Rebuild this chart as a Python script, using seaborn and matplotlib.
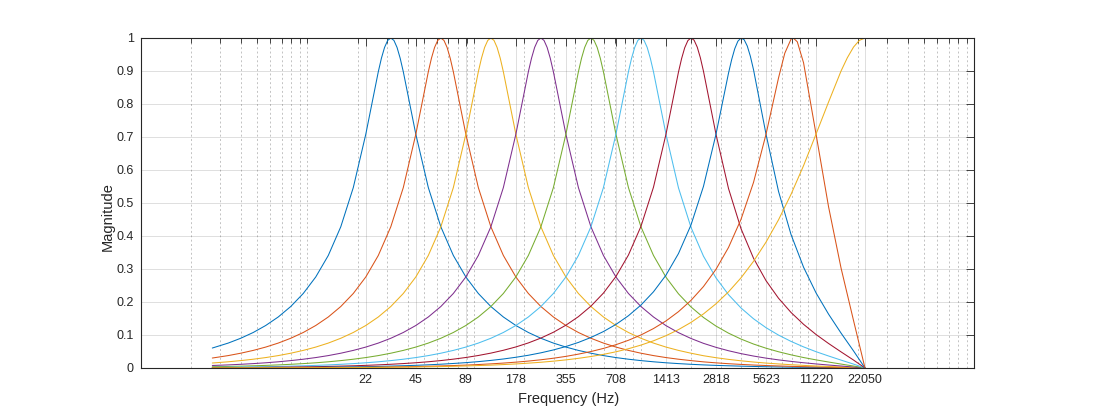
import matplotlib
matplotlib.use("Agg")
import matplotlib.pyplot as plt
import numpy as np
import pandas as pd
import seaborn as sns
from matplotlib.ticker import FixedLocator, FixedFormatter, NullFormatter

# Octave filter bank magnitude responses (fs = 44.1 kHz)

# Shared frequency grid (Hz)
freq_hz = [2.69, 3.350, 3.981, 4.732, 5.623, 6.683, 7.943, 9.441, 11.22, 13.34,
           15.85, 18.84, 22.39, 26.61, 31.62, 37.58, 44.67, 53.09, 63.10, 74.99,
           89.13, 105.9, 125.9, 149.6, 177.8, 211.3, 251.2, 298.5, 354.8, 421.7,
           501.2, 595.7, 707.9, 841.4, 1000, 1189, 1413, 1679, 1995, 2371,
           2818, 3350, 3981, 4732, 5623, 6683, 7943, 9441, 11220, 13335,
           15849, 18836, 22050]

band_names = ["31.5 Hz", "63 Hz", "125 Hz", "250 Hz", "500 Hz",
              "1 kHz", "2 kHz", "4 kHz", "8 kHz", "16 kHz"]

mag_31hz = [0.0605, 0.0755, 0.0901, 0.1076, 0.1288, 0.1546, 0.1863, 0.2258, 0.2759, 0.3410,
            0.4279, 0.5467, 0.7084, 0.8977, 1.0, 0.8977, 0.7084, 0.5467, 0.4279, 0.3410,
            0.2759, 0.2258, 0.1863, 0.1546, 0.1288, 0.1076, 0.0901, 0.0755, 0.0634, 0.0533,
            0.0448, 0.0376, 0.0316, 0.0266, 0.0224, 0.0188, 0.0158, 0.0133, 0.0112, 0.0094,
            0.0079, 0.0067, 0.0056, 0.0047, 0.0038, 0.0031, 0.0025, 0.0020, 0.0016, 0.0012,
            0.0007, 0.0004, 0.0]
mag_63hz = [0.0302, 0.0376, 0.0448, 0.0533, 0.0634, 0.0755, 0.0901, 0.1076, 0.1288, 0.1546,
            0.1863, 0.2258, 0.2759, 0.3410, 0.4279, 0.5467, 0.7084, 0.8977, 1.0, 0.8977,
            0.7084, 0.5467, 0.4279, 0.3410, 0.2759, 0.2258, 0.1863, 0.1546, 0.1288, 0.1076,
            0.0901, 0.0755, 0.0634, 0.0533, 0.0448, 0.0376, 0.0316, 0.0266, 0.0224, 0.0186,
            0.0156, 0.0130, 0.0109, 0.0090, 0.0075, 0.0062, 0.0050, 0.0040, 0.0031, 0.0023,
            0.0015, 0.0008, 0.0]
mag_125hz = [0.0151, 0.0188, 0.0224, 0.0266, 0.0316, 0.0376, 0.0448, 0.0533, 0.0634, 0.0755,
             0.0901, 0.1076, 0.1288, 0.1546, 0.1863, 0.2258, 0.2759, 0.3410, 0.4279, 0.5467,
             0.7084, 0.8977, 1.0, 0.8977, 0.7084, 0.5467, 0.4279, 0.3410, 0.2759, 0.2258,
             0.1863, 0.1546, 0.1288, 0.1076, 0.0901, 0.0755, 0.0634, 0.0533, 0.0448, 0.0372,
             0.0312, 0.0261, 0.0218, 0.0181, 0.0149, 0.0123, 0.0100, 0.0079, 0.0061, 0.0046,
             0.0030, 0.0015, 0.0]
mag_250hz = [0.0076, 0.0094, 0.0112, 0.0133, 0.0158, 0.0188, 0.0224, 0.0266, 0.0316, 0.0376,
             0.0448, 0.0533, 0.0634, 0.0755, 0.0901, 0.1076, 0.1288, 0.1546, 0.1863, 0.2258,
             0.2759, 0.3410, 0.4279, 0.5467, 0.7084, 0.8977, 1.0, 0.8977, 0.7084, 0.5467,
             0.4279, 0.3410, 0.2759, 0.2258, 0.1863, 0.1546, 0.1284, 0.1071, 0.0895, 0.0747,
             0.0626, 0.0523, 0.0436, 0.0362, 0.0299, 0.0246, 0.0200, 0.0159, 0.0123, 0.0090,
             0.0060, 0.0029, 0.0]
mag_500hz = [0.0038, 0.0047, 0.0056, 0.0067, 0.0079, 0.0094, 0.0112, 0.0133, 0.0158, 0.0188,
             0.0224, 0.0266, 0.0316, 0.0376, 0.0448, 0.0533, 0.0634, 0.0755, 0.0901, 0.1076,
             0.1288, 0.1546, 0.1863, 0.2258, 0.2759, 0.3410, 0.4279, 0.5467, 0.7084, 0.8977,
             1.0, 0.8977, 0.7084, 0.5467, 0.4279, 0.3410, 0.2751, 0.2248, 0.1851, 0.1531,
             0.1271, 0.1056, 0.0877, 0.0726, 0.0600, 0.0492, 0.0399, 0.0317, 0.0246, 0.0181,
             0.0119, 0.0059, 0.0]
mag_1khz = [0.0019, 0.0024, 0.0028, 0.0034, 0.0040, 0.0047, 0.0056, 0.0067, 0.0079, 0.0094,
            0.0112, 0.0133, 0.0158, 0.0188, 0.0224, 0.0266, 0.0316, 0.0376, 0.0448, 0.0533,
            0.0634, 0.0755, 0.0901, 0.1076, 0.1288, 0.1546, 0.1863, 0.2258, 0.2759, 0.3410,
            0.4279, 0.5467, 0.7084, 0.8977, 1.0, 0.8977, 0.7084, 0.5459, 0.4264, 0.3389,
            0.2732, 0.2222, 0.1819, 0.1492, 0.1222, 0.0997, 0.0806, 0.0640, 0.0494, 0.0364,
            0.0239, 0.0118, 0.0]
mag_2khz = [0.0009, 0.0012, 0.0014, 0.0017, 0.0020, 0.0024, 0.0028, 0.0034, 0.0040, 0.0048,
            0.0057, 0.0067, 0.0080, 0.0095, 0.0113, 0.0134, 0.0159, 0.0189, 0.0225, 0.0268,
            0.0318, 0.0379, 0.0451, 0.0537, 0.0638, 0.0760, 0.0907, 0.1083, 0.1297, 0.1556,
            0.1874, 0.2270, 0.2772, 0.3424, 0.4291, 0.5479, 0.7084, 0.8967, 1.0, 0.8993,
            0.7085, 0.5439, 0.4222, 0.3326, 0.2647, 0.2114, 0.1683, 0.1324, 0.1015, 0.0743,
            0.0488, 0.0240, 0.0]
mag_4khz = [0.0005, 0.0006, 0.0007, 0.0008, 0.0010, 0.0012, 0.0014, 0.0017, 0.0021, 0.0025,
            0.0029, 0.0035, 0.0041, 0.0048, 0.0058, 0.0069, 0.0081, 0.0097, 0.0115, 0.0137,
            0.0162, 0.0193, 0.0230, 0.0273, 0.0325, 0.0386, 0.0460, 0.0547, 0.0651, 0.0775,
            0.0925, 0.1104, 0.1320, 0.1584, 0.1907, 0.2309, 0.2814, 0.3468, 0.4332, 0.5504,
            0.7082, 0.8934, 0.9998, 0.9039, 0.7086, 0.5352, 0.4044, 0.3055, 0.2275, 0.1632,
            0.1057, 0.0516, 0.0]
mag_8khz = [0.0003, 0.0003, 0.0004, 0.0005, 0.0006, 0.0007, 0.0008, 0.0009, 0.0011, 0.0013,
            0.0016, 0.0019, 0.0022, 0.0026, 0.0031, 0.0037, 0.0044, 0.0053, 0.0063, 0.0074,
            0.0088, 0.0105, 0.0125, 0.0149, 0.0177, 0.0210, 0.0249, 0.0296, 0.0352, 0.0420,
            0.0499, 0.0593, 0.0706, 0.0840, 0.1001, 0.1195, 0.1426, 0.1707, 0.2048, 0.2468,
            0.2991, 0.3652, 0.4505, 0.5624, 0.7082, 0.8790, 0.9965, 0.9250, 0.7085, 0.4886,
            0.3026, 0.1434, 0.0]
mag_16khz = [0.0002, 0.0002, 0.0003, 0.0003, 0.0004, 0.0005, 0.0006, 0.0007, 0.0008, 0.0009,
             0.0011, 0.0013, 0.0016, 0.0018, 0.0022, 0.0026, 0.0031, 0.0037, 0.0044, 0.0052,
             0.0062, 0.0074, 0.0087, 0.0104, 0.0123, 0.0147, 0.0174, 0.0207, 0.0246, 0.0293,
             0.0348, 0.0413, 0.0491, 0.0584, 0.0694, 0.0824, 0.0979, 0.1163, 0.1381, 0.1639,
             0.1945, 0.2307, 0.2732, 0.3232, 0.3814, 0.4490, 0.5262, 0.6131, 0.7089, 0.8059,
             0.9000, 0.9726, 1.0]

# Extra points around each peak (Hz, magnitude)
peak_hz = [[27.78, 29.01, 30.29, 33.02, 34.47, 35.99],
           [55.43, 57.88, 60.43, 65.88, 68.79, 71.82],
           [110.6, 115.5, 120.6, 131.5, 137.2, 143.3],
           [220.7, 230.4, 240.6, 262.3, 273.8, 285.9],
           [440.3, 459.8, 480.0, 523.3, 546.4, 570.5],
           [878.6, 917.4, 957.7, 1044, 1090, 1138],
           [1753, 1830, 1912, 2083, 2176, 2271],
           [3499, 3652, 3813, 4157, 4340, 4530],
           [7286, 8188, 8660],
           [17278, 20400]]
peak_mag = [[0.9387, 0.9714, 0.9926, 0.9926, 0.9714, 0.9387],
            [0.9387, 0.9714, 0.9926, 0.9926, 0.9714, 0.9387],
            [0.9387, 0.9714, 0.9926, 0.9926, 0.9714, 0.9387],
            [0.9387, 0.9714, 0.9926, 0.9926, 0.9714, 0.9387],
            [0.9387, 0.9714, 0.9926, 0.9926, 0.9714, 0.9387],
            [0.9387, 0.9714, 0.9926, 0.9926, 0.9714, 0.9387],
            [0.9376, 0.9704, 0.9922, 0.9933, 0.9722, 0.9402],
            [0.9344, 0.9676, 0.9903, 0.9948, 0.9757, 0.9447],
            [0.9538, 1.0, 0.9885],
            [0.9400, 0.9927]]

# X tick positions and labels
xtick_hz = [22.39, 44.67, 89.13, 177.8, 354.8, 707.9, 1412.5, 2818.4, 5623.4, 11220.2, 22050]
xtick_labels = ["22", "45", "89", "178", "355", "708", "1413", "2818", "5623", "11220", "22050"]
ytick_vals = [0, 0.1, 0.2, 0.3, 0.4, 0.5, 0.6, 0.7, 0.8, 0.9, 1.0]
ytick_labels = ["0", "0.1", "0.2", "0.3", "0.4", "0.5", "0.6", "0.7", "0.8", "0.9", "1"]

# MATLAB default line colours
matlab_colors = ["#0072BD", "#D95319", "#EDB120", "#7E2F8E", "#77AC30",
                 "#4DBEEE", "#A2142F", "#0072BD", "#D95319", "#EDB120"]

all_mags = [mag_31hz, mag_63hz, mag_125hz, mag_250hz, mag_500hz,
            mag_1khz, mag_2khz, mag_4khz, mag_8khz, mag_16khz]

frames = []
for name, mags, ex_f, ex_m in zip(band_names, all_mags, peak_hz, peak_mag):
    frames.append(pd.DataFrame({"freq": freq_hz + ex_f, "mag": mags + ex_m, "band": name}))
df = pd.concat(frames, ignore_index=True)

sns.set_style("white")
plt.rcParams["font.family"] = ["Liberation Sans", "DejaVu Sans"]
text_color = "#262626"

fig = plt.figure(figsize=(10.98, 4.12), dpi=100)
ax = fig.add_axes([0.1281, 0.1068, 0.7594, 0.801])

sns.lineplot(data=df, x="freq", y="mag", hue="band", hue_order=band_names,
             palette=matlab_colors, estimator=None, sort=True, legend=False,
             linewidth=0.75, ax=ax)

ax.set_xscale("log")
ax.set_xlim(1, 1e5)
ax.set_ylim(0, 1)

minor_pos = [s * 10.0 ** e for e in range(0, 5) for s in range(1, 10)] + [1e5]
ax.xaxis.set_major_locator(FixedLocator(xtick_hz))
ax.xaxis.set_major_formatter(FixedFormatter(xtick_labels))
ax.xaxis.set_minor_locator(FixedLocator(minor_pos))
ax.xaxis.set_minor_formatter(NullFormatter())
ax.yaxis.set_major_locator(FixedLocator(ytick_vals))
ax.yaxis.set_major_formatter(FixedFormatter(ytick_labels))

ax.grid(True, which="major", color=text_color, alpha=0.15, linewidth=0.7, linestyle="-")
ax.grid(True, which="minor", axis="x", color="#c2c2c2", linewidth=0.7, linestyle=(0, (2, 2.5)))
ax.set_axisbelow(True)

ax.tick_params(which="both", direction="in", top=True, right=True, colors=text_color,
               labelcolor=text_color, width=0.6, labelsize=9)
ax.tick_params(which="major", length=6)
ax.tick_params(which="minor", length=3.5)
ax.tick_params(axis="x", which="major", pad=4)
ax.tick_params(axis="y", which="major", pad=5)

for sp in ax.spines.values():
    sp.set_color(text_color)
    sp.set_linewidth(0.8)
    sp.set_visible(True)

ax.set_xlabel("Frequency (Hz)", fontsize=10.5, color=text_color, labelpad=4.5, x=0.5137)
ax.set_ylabel("Magnitude", fontsize=10.5, color=text_color, labelpad=1, y=0.46)

fig.savefig("out.png", dpi=100)
